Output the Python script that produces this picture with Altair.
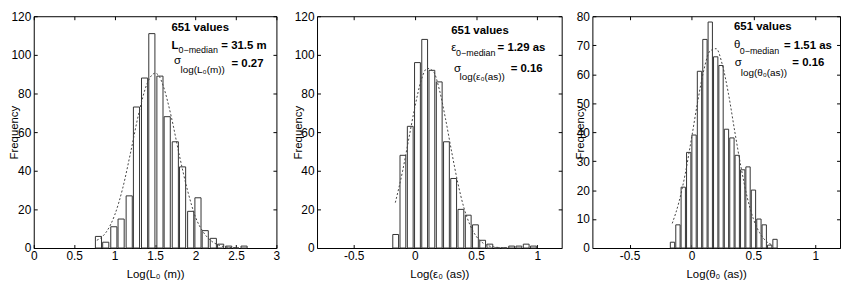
import altair as alt
import pandas as pd

FONT = "Liberation Sans"

# ---------------- data ----------------
# Panel 1: Log(L0 (m))
l0_bin_centers = [0.80, 0.89, 0.99, 1.08, 1.18, 1.27, 1.37, 1.46, 1.56, 1.65,
                  1.75, 1.84, 1.94, 2.03, 2.12, 2.22, 2.31, 2.41, 2.50, 2.60]
l0_counts = [6, 3, 11, 15, 27, 73, 88, 111, 89, 68,
             55, 42, 19, 26, 9, 5, 2, 1, 0, 1]
l0_fit_x = [0.78, 0.85, 0.9, 1.0, 1.1, 1.2, 1.3, 1.4, 1.45, 1.5, 1.55, 1.6,
            1.7, 1.8, 1.9, 2.0, 2.1, 2.2, 2.3, 2.4, 2.5]
l0_fit_y = [4.0, 6.0, 8.5, 17, 31, 50, 70, 85, 89, 90.5, 89, 84,
            68, 48, 30, 16, 8, 3.5, 1.3, 0.4, 0.1]

# Panel 2: Log(eps0 (as))
eps_bin_centers = [-0.157, -0.098, -0.038, 0.021, 0.080, 0.139, 0.199, 0.258, 0.317, 0.376,
                   0.436, 0.495, 0.554, 0.613, 0.673, 0.732, 0.791, 0.850, 0.910, 0.969]
eps_counts = [7, 48, 63, 96, 108, 92, 86, 55, 36, 20,
              17, 12, 4, 2, 0, 0, 1, 1, 2, 1]
eps_fit_x = [-0.16, -0.1, -0.05, 0.0, 0.05, 0.1, 0.15, 0.2, 0.25, 0.3, 0.35,
             0.4, 0.45, 0.5, 0.55, 0.6, 0.65, 0.7, 0.77]
eps_fit_y = [23.5, 40, 56.5, 73, 86.5, 93, 91.5, 82, 67, 50, 34,
             21, 12, 6.2, 2.9, 1.2, 0.5, 0.2, 0.05]

# Panel 3: Log(theta0 (as))
th_bin_centers = [-0.153, -0.109, -0.066, -0.022, 0.021, 0.065, 0.109, 0.152, 0.196, 0.239,
                  0.283, 0.327, 0.370, 0.414, 0.457, 0.501, 0.545, 0.588, 0.632, 0.675]
th_counts = [2, 8, 21, 33, 39, 61, 72, 78, 66, 63,
             41, 38, 32, 27, 28, 20, 10, 8, 1, 3]
th_fit_x = [-0.155, -0.1, -0.05, 0.0, 0.05, 0.1, 0.15, 0.2, 0.25, 0.3, 0.35,
            0.4, 0.45, 0.5, 0.55, 0.6, 0.655]
th_fit_y = [8.5, 16, 25.6, 37.7, 50.4, 61.4, 68, 68.8, 63.2, 53, 40.2,
            28, 17.6, 10.1, 5.3, 2.5, 1.0]

x_ticks_L = [0, 0.5, 1, 1.5, 2, 2.5, 3]
x_ticks_as = [-0.5, 0, 0.5, 1]
y_ticks_120 = [0, 20, 40, 60, 80, 100, 120]
y_ticks_80 = [0, 10, 20, 30, 40, 50, 60, 70, 80]

x_titles = ["Log(L\u2080 (m))", "Log(\u03b5\u2080 (as))", "Log(\u03b8\u2080 (as))"]

# annotation texts (text, x in data units, y in data units)
ann1_bold = [("651 values", 1.702, 114.0), ("L", 1.702, 104.8), ("= 31.5 m", 2.319, 104.8), ("= 0.27", 2.445, 95.3)]
ann1_sym = [("\u03c3", 1.735, 96.6)]
ann1_med = [("0\u2212median", 1.790, 102.5)]
ann1_log = [("log(L\u2080(m))", 1.815, 92.1)]

ann2_bold = [("651 values", 0.297, 112.4), ("= 1.29 as", 0.676, 103.5), ("= 0.16", 0.783, 92.5)]
ann2_sym = [("\u03b5", 0.297, 103.5), ("\u03c3", 0.319, 92.9)]
ann2_med = [("0\u2212median", 0.337, 100.8)]
ann2_log = [("log(\u03b5\u2080(as))", 0.365, 88.4)]

ann3_bold = [("651 values", 0.344, 76.4), ("= 1.51 as", 0.748, 69.8), ("= 0.16", 0.815, 63.8)]
ann3_sym = [("\u03b8", 0.344, 70.2), ("\u03c3", 0.350, 63.8)]
ann3_med = [("0\u2212median", 0.390, 68.0)]
ann3_log = [("log(\u03b8\u2080(as))", 0.398, 60.5)]

H = 234
TICK = 3.5


def text_layer(rows, xs, ys, size, weight):
    df = pd.DataFrame(rows, columns=["t", "x", "y"])
    return alt.Chart(df).mark_text(
        align="left", baseline="middle", fontSize=size, fontWeight=weight,
        font=FONT, color="black"
    ).encode(
        x=alt.X("x:Q", scale=xs, axis=None),
        y=alt.Y("y:Q", scale=ys, axis=None),
        text="t:N",
    )


def panel(centers, counts, fit_x, fit_y, xdom, xticks, ydom, yticks, xtitle,
          bold, sym, med, logt, width):
    step = (centers[-1] - centers[0]) / (len(centers) - 1)
    half = 0.4 * step
    bars = pd.DataFrame({
        "lo": [c - half for c in centers],
        "hi": [c + half for c in centers],
        "n": counts,
    })
    fit = pd.DataFrame({"x": fit_x, "y": fit_y})
    xs = alt.Scale(domain=xdom, nice=False, zero=False)
    ys = alt.Scale(domain=ydom, nice=False, zero=False)

    bar_layer = alt.Chart(bars).mark_rect(
        fill="white", stroke="#333333", strokeWidth=1
    ).encode(
        x=alt.X("lo:Q", scale=xs, axis=alt.Axis(
            orient="bottom", values=xticks, labelExpr="'' + datum.value",
            title=xtitle, offset=-TICK, tickSize=TICK, domain=False, grid=False,
            labelPadding=3, titlePadding=7, labelFlush=False, labelOverlap=False)),
        x2="hi:Q",
        y=alt.Y("n:Q", scale=ys, axis=alt.Axis(
            orient="left", values=yticks, title="Frequency", offset=-TICK,
            tickSize=TICK, domain=False, grid=False, labelPadding=3,
            titlePadding=-9, labelFlush=False, labelOverlap=False)),
        y2=alt.datum(0),
    )

    curve = alt.Chart(fit).mark_line(
        color="#444444", strokeDash=[2, 2], strokeWidth=1, interpolate="monotone"
    ).encode(
        x=alt.X("x:Q", scale=xs, axis=alt.Axis(
            orient="top", values=xticks, labels=False, title=None, offset=-TICK,
            tickSize=TICK, domain=False, grid=False)),
        y=alt.Y("y:Q", scale=ys, axis=alt.Axis(
            orient="right", values=yticks, labels=False, title=None, offset=-TICK,
            tickSize=TICK, domain=False, grid=False)),
    )

    layers = [bar_layer, curve,
              text_layer(bold, xs, ys, 11.5, "bold"),
              text_layer(sym, xs, ys, 11.5, "normal"),
              text_layer(med, xs, ys, 9, "normal"),
              text_layer(logt, xs, ys, 10, "normal")]
    return alt.layer(*layers).resolve_axis(
        x="independent", y="independent"
    ).properties(width=width, height=H)


p1 = panel(l0_bin_centers, l0_counts, l0_fit_x, l0_fit_y, [0, 3], x_ticks_L,
           [0, 120], y_ticks_120, x_titles[0], ann1_bold, ann1_sym, ann1_med, ann1_log, 245)
p2 = panel(eps_bin_centers, eps_counts, eps_fit_x, eps_fit_y, [-0.8, 1.2], x_ticks_as,
           [0, 120], y_ticks_120, x_titles[1], ann2_bold, ann2_sym, ann2_med, ann2_log, 247)
p3 = panel(th_bin_centers, th_counts, th_fit_x, th_fit_y, [-0.8, 1.2], x_ticks_as,
           [0, 80], y_ticks_80, x_titles[2], ann3_bold, ann3_sym, ann3_med, ann3_log, 250)

inner = alt.hconcat(p2, p3, spacing=31, bounds="flush")
chart = alt.hconcat(p1, inner, spacing=41, bounds="flush").properties(
    padding={"left": 0, "top": 0, "right": 0, "bottom": 0},
    background="white",
).configure_view(
    stroke="black", strokeWidth=1
).configure_axis(
    labelFont=FONT, titleFont=FONT, labelFontSize=12, titleFontSize=11.5,
    titleFontWeight="normal", labelColor="black", titleColor="black",
    tickColor="black", tickWidth=1
)

chart.save("out.html", embed_options={"renderer": "svg", "actions": False})
